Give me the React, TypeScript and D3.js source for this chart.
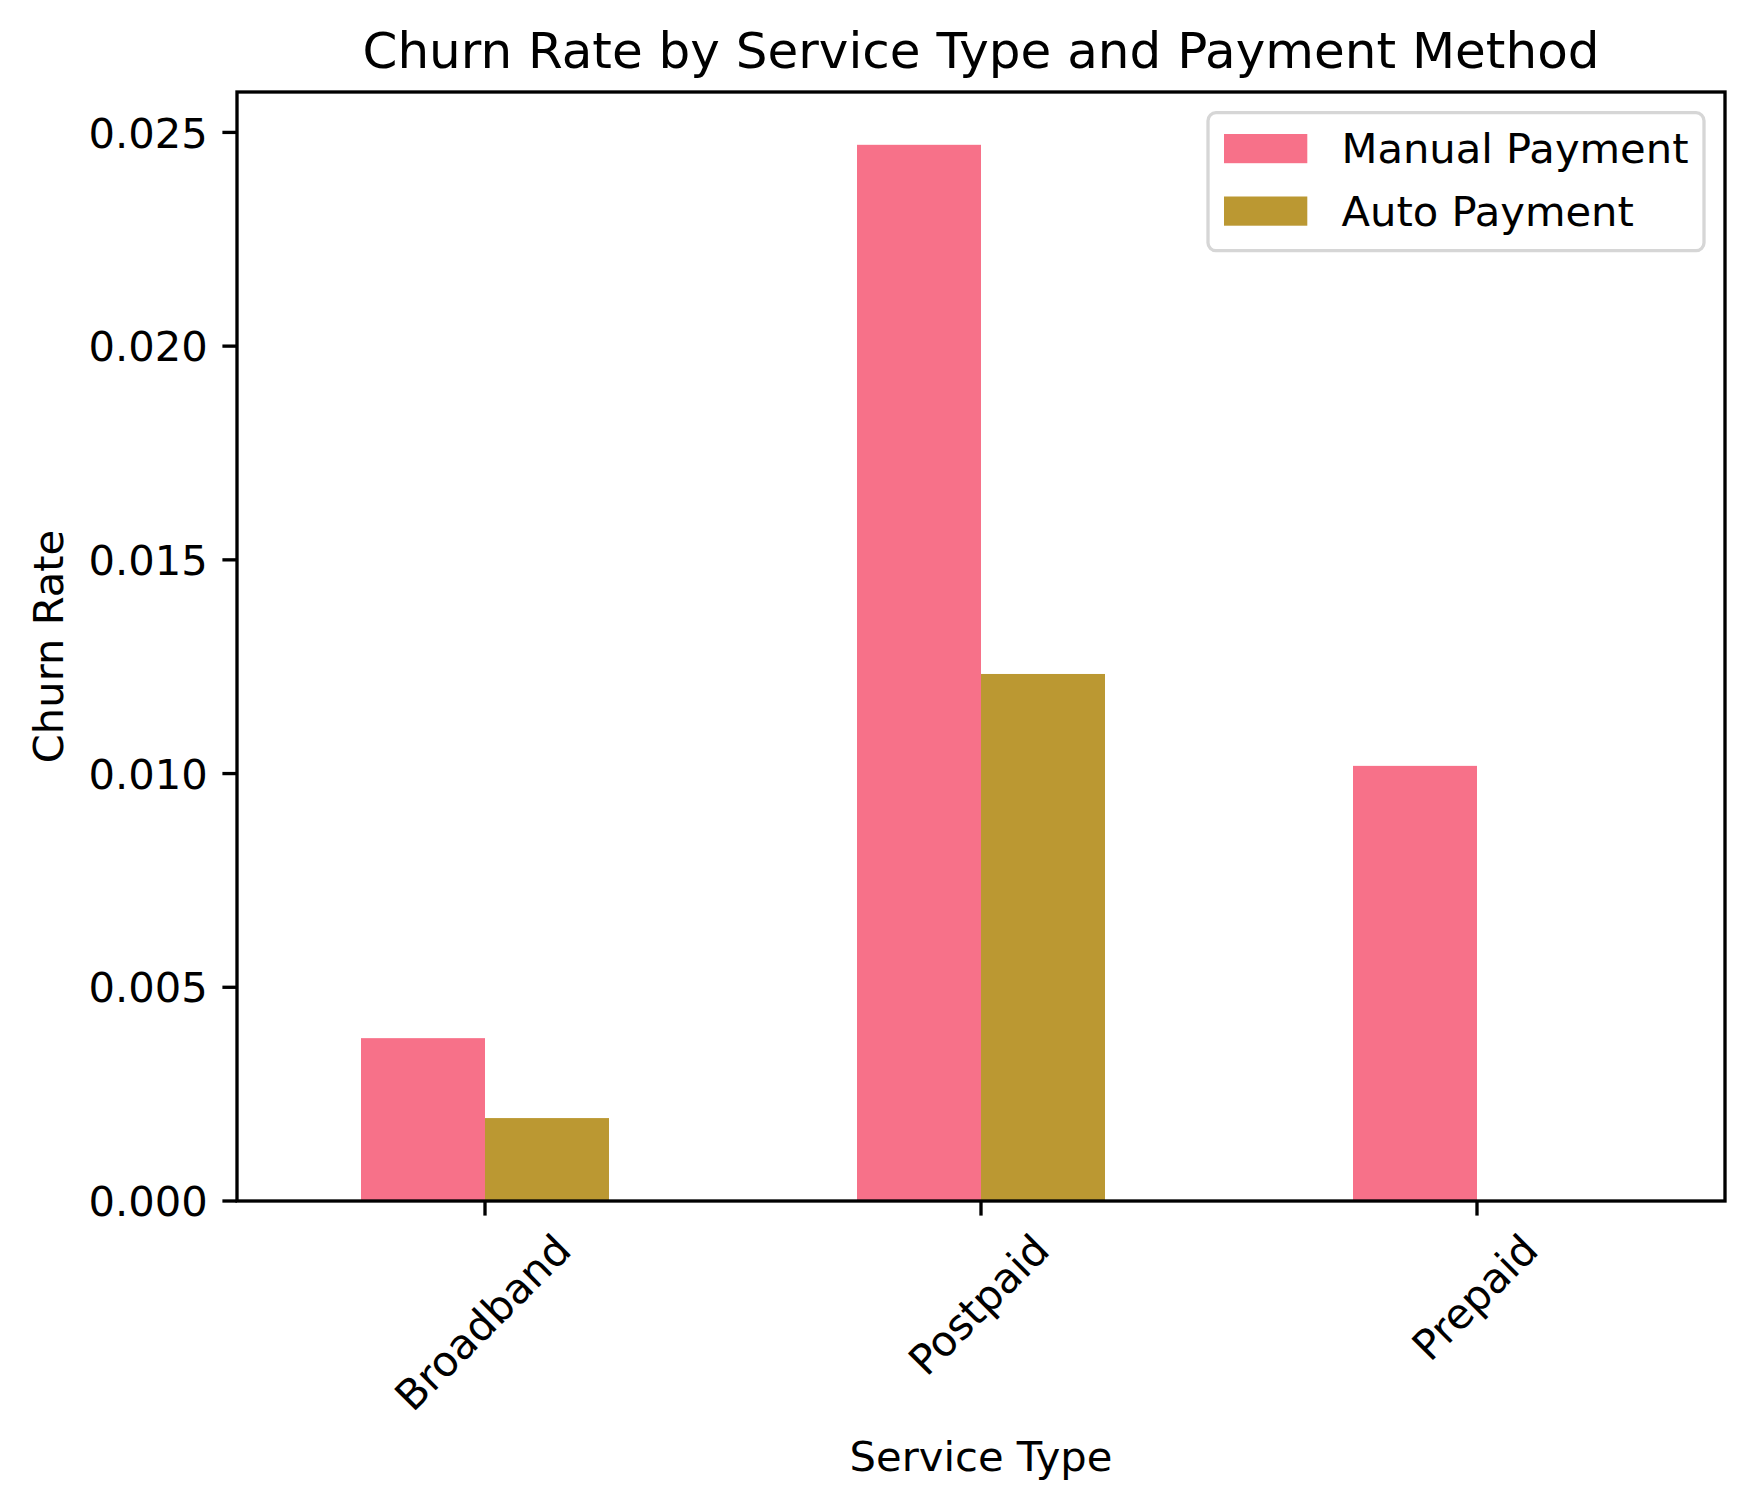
import React, { useEffect, useRef } from "react";
import * as d3 from "d3";

const categories = ["Broadband", "Postpaid", "Prepaid"];
const manualPayment = [0.00381, 0.02471, 0.01018];
const autoPayment = [0.00194, 0.01233, 0];
const seriesNames = ["Manual Payment", "Auto Payment"];
const seriesColors = ["#f77189", "#bb9832"];
const yTickValues = [0, 0.005, 0.01, 0.015, 0.02, 0.025];

const W = 1755;
const H = 1509;
const FONT = "DejaVu Sans, sans-serif";
const FS = 41.67;
const LW = 3.33;
const TICK = 14.6;
const PAD = 14.6;

export default function App() {
  const ref = useRef<SVGSVGElement | null>(null);

  useEffect(() => {
    document.body.style.margin = "0";
    const svg = d3.select(ref.current);
    svg.selectAll("*").remove();

    const left = 237, right = 1725, top = 92, bottom = 1201;
    const x = d3.scaleLinear().domain([-0.5, categories.length - 0.5]).range([left, right]);
    const yMax = d3.max([...manualPayment, ...autoPayment]) as number * 1.05;
    const y = d3.scaleLinear().domain([0, yMax]).range([bottom, top]);
    const barW = 0.25;

    svg.append("rect").attr("width", W).attr("height", H).attr("fill", "#fff");

    const series = [manualPayment, autoPayment];
    series.forEach((vals, si) => {
      svg.append("g")
        .selectAll("rect")
        .data(vals)
        .join("rect")
        .attr("x", (_d, i) => x(i + (si - 1) * barW))
        .attr("width", x(barW) - x(0))
        .attr("y", (d) => y(d))
        .attr("height", (d) => y(0) - y(d))
        .attr("fill", seriesColors[si]);
    });

    // spines
    const sp = svg.append("g").attr("stroke", "#000").attr("stroke-width", LW).attr("fill", "none");
    sp.append("rect").attr("x", left).attr("y", top).attr("width", right - left).attr("height", bottom - top)
      .attr("stroke-linejoin", "miter");

    // y ticks
    const yt = svg.append("g");
    yTickValues.forEach((v) => {
      const yy = y(v);
      yt.append("line").attr("x1", left - TICK).attr("x2", left).attr("y1", yy).attr("y2", yy)
        .attr("stroke", "#000").attr("stroke-width", LW);
      yt.append("text").attr("x", left - TICK - PAD).attr("y", yy + 0.364 * FS)
        .attr("text-anchor", "end").attr("font-family", FONT).attr("font-size", FS).attr("fill", "#000")
        .text(d3.format(".3f")(v));
    });

    // x ticks
    const xt = svg.append("g");
    const h = 0.968 * FS, dsc = 0.208 * FS;
    categories.forEach((c, i) => {
      const xx = x(i);
      xt.append("line").attr("x1", xx).attr("x2", xx).attr("y1", bottom).attr("y2", bottom + TICK)
        .attr("stroke", "#000").attr("stroke-width", LW);
      const g = xt.append("g");
      const t = g.append("text").attr("text-anchor", "middle").attr("font-family", FONT)
        .attr("font-size", FS).attr("fill", "#000").attr("x", 0).attr("y", h / 2 - dsc).text(c);
      const w = (t.node() as SVGTextElement).getComputedTextLength();
      const side = (w + h) / Math.SQRT2;
      const cy = bottom + TICK + PAD + side / 2;
      g.attr("transform", `translate(${xx},${cy}) rotate(-45)`);
    });

    // title & labels
    svg.append("text").attr("x", (left + right) / 2).attr("y", 68).attr("text-anchor", "middle")
      .attr("font-family", FONT).attr("font-size", 50).attr("fill", "#000")
      .text("Churn Rate by Service Type and Payment Method");
    svg.append("text").attr("x", (left + right) / 2).attr("y", 1471).attr("text-anchor", "middle")
      .attr("font-family", FONT).attr("font-size", FS).attr("fill", "#000").text("Service Type");
    svg.append("text").attr("transform", `translate(63,${(top + bottom) / 2}) rotate(-90)`)
      .attr("text-anchor", "middle").attr("font-family", FONT).attr("font-size", FS).attr("fill", "#000")
      .text("Churn Rate");

    // legend
    const lg = svg.append("g");
    lg.append("rect").attr("x", 1208).attr("y", 112.7).attr("width", 1704 - 1208).attr("height", 250.7 - 112.7)
      .attr("rx", 8).attr("ry", 8).attr("fill", "#fff").attr("fill-opacity", 0.8)
      .attr("stroke", "#d6d6d6").attr("stroke-width", 3.3);
    seriesNames.forEach((n, i) => {
      const rowTop = 134 + i * 62.5;
      lg.append("rect").attr("x", 1224).attr("y", rowTop).attr("width", 83.3).attr("height", 29.2)
        .attr("fill", seriesColors[i]);
      lg.append("text").attr("x", 1341.5).attr("y", rowTop + 29.2).attr("font-family", FONT)
        .attr("font-size", FS).attr("fill", "#000").text(n);
    });
  }, []);

  return <svg ref={ref} width={W} height={H} style={{ display: "block" }} />;
}
